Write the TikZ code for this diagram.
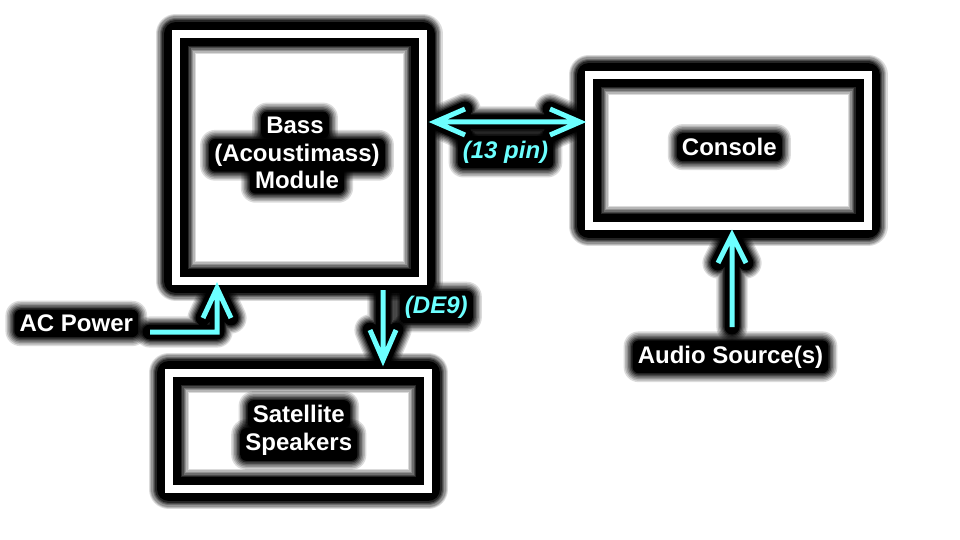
\documentclass[tikz,border=0pt]{standalone}
\usepackage{fontspec}
\setmainfont{Liberation Sans}
\usetikzlibrary{calc}
\pgfdeclarelayer{bg}
\pgfdeclarelayer{mid}
\pgfsetlayers{bg,mid,main}
\definecolor{cyanc}{RGB}{108,255,255}
\tikzset{
  boxnode/.style={draw=none, inner sep=0pt, minimum width=#1},
  lbl/.style={text=white, inner sep=0pt, anchor=base, font=\fontsize{24}{27}\selectfont\bfseries},
  cylbl/.style={text=cyanc, inner sep=0pt, anchor=base, font=\fontsize{24}{27}\selectfont\bfseries\itshape},
  whiteline/.style={draw=white, line width=8pt, line join=miter},
  cyanline/.style={draw=cyanc, line width=5pt, line join=miter},
}
\begin{document}
\begin{tikzpicture}[x=1pt,y=-1pt]
\useasboundingbox (0,0) rectangle (960,540);
% boxes
\node[boxnode=246.5pt, minimum height=247pt] (bass) at (299.25,157.5) {};
\node[boxnode=259pt, minimum height=116pt] (sat) at (298.5,431) {};
\node[boxnode=278.5pt, minimum height=151pt] (console) at (728.25,150.5) {};
% labels
\node[lbl] (bass1) at (295,133.3) {Bass};
\node[lbl] (bass2) at (297,161.5) {(Acoustimass)};
\node[lbl] (bass3) at (297,188.3) {Module};
\node[lbl] (cons) at (729.3,155.7) {Console};
\node[lbl] (sat1) at (298.8,422.7) {Satellite};
\node[lbl] (sat2) at (298.8,450.7) {Speakers};
\node[lbl] (acp) at (76.3,331.7) {AC Power};
\node[lbl] (aud) at (730.5,363) {Audio Source(s)};
\node[cylbl] (pin) at (505.5,158.3) {(13 pin)};
\node[cylbl] (de) at (436.3,313.3) {(DE9)};
% connector end points
\coordinate (t13a) at (435,122);
\coordinate (t13b) at (580,122);
\coordinate (audT) at (732,327);
\coordinate (audH) at (732,235);
\coordinate (deT) at (383,290);
\coordinate (deH) at (383,360);
\coordinate (acT) at (150,332);
\coordinate (acC) at (217,332);
\coordinate (acH) at (217,288);
\begin{pgfonlayer}{bg}
  % box halos (soft edge)
  \foreach \b in {bass,sat,console}{
    \foreach \k/\o in {6/0.1429,5/0.1667,4/0.2,3/0.25,2/0.3333,1/0.5,0/1}{
      \pgfmathsetmacro\w{24+2.7*\k}
      \draw[black, opacity=\o, line width=\w pt, line join=round] (\b.south west) rectangle (\b.north east);
    }
  }
  % label halos
  \foreach \n in {bass1,bass2,bass3,cons,sat1,sat2,acp,aud,pin,de}{
    \foreach \k/\o in {6/0.1429,5/0.1667,4/0.2,3/0.25,2/0.3333,1/0.5,0/1}{
      \pgfmathsetmacro\m{5+1.5*\k}
      \pgfmathsetmacro\r{6+1.5*\k}
      \fill[black, opacity=\o, rounded corners=\r pt] ($(\n.south west)+(-\m,\m)$) rectangle ($(\n.north east)+(\m,-\m)$);
    }
  }
  % arrow halos
  \foreach \k/\o in {6/0.1429,5/0.1667,4/0.2,3/0.25,2/0.3333,1/0.5,0/1}{
    \pgfmathsetmacro\w{15+2.7*\k}
    \draw[black, opacity=\o, line width=\w pt, line cap=round, line join=round]
      (t13a) -- (t13b) (t13a) ++(30,-13) -- (t13a) -- ++(30,13) (t13b) ++(-30,-13) -- (t13b) -- ++(-30,13)
      (audT) -- (audH) (audH) ++(-14,28) -- (audH) -- ++(14,28)
      (deT) -- (deH) (deH) ++(-13,-30) -- (deH) -- ++(13,-30)
      (acT) -- (acC) -- (acH) (acH) ++(-14,30) -- (acH) -- ++(14,30);
  }
\end{pgfonlayer}
\begin{pgfonlayer}{mid}
  \foreach \b in {bass,sat,console}{
    \draw[whiteline] (\b.south west) rectangle (\b.north east);
  }
\end{pgfonlayer}
% connectors
\draw[cyanline] (t13a) -- (t13b) (t13a) ++(30,-13) -- (t13a) -- ++(30,13) (t13b) ++(-30,-13) -- (t13b) -- ++(-30,13);
\draw[cyanline] (audT) -- (audH) (audH) ++(-14,28) -- (audH) -- ++(14,28);
\draw[cyanline] (deT) -- (deH) (deH) ++(-13,-30) -- (deH) -- ++(13,-30);
\draw[cyanline] (acT) -- (acC) -- (acH) (acH) ++(-14,30) -- (acH) -- ++(14,30);
\end{tikzpicture}
\end{document}
